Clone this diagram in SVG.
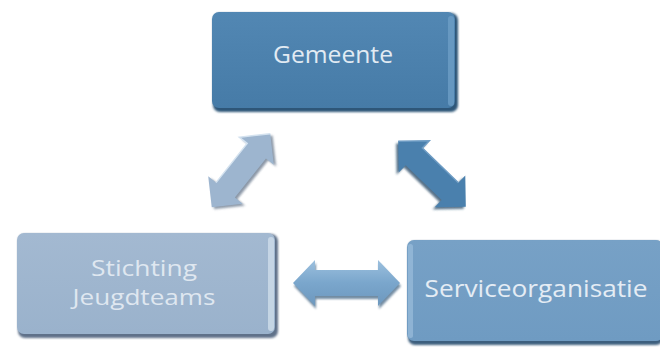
<svg xmlns="http://www.w3.org/2000/svg" xmlns:xlink="http://www.w3.org/1999/xlink" width="660" height="347" viewBox="0 0 660 347">
  <defs>
    <style>
      .lbl { font-family: "Open Sans", "Noto Sans", "Liberation Sans", sans-serif; font-size: 24px; text-anchor: middle; }
      .lbl2 { font-family: "Open Sans", "Noto Sans", "Liberation Sans", sans-serif; font-size: 21px; text-anchor: middle; }
    </style>
    <filter id="soft" x="-10%" y="-10%" width="120%" height="130%">
      <feGaussianBlur stdDeviation="1.2"/>
    </filter>
    <linearGradient id="gDark" x1="0" y1="0" x2="0" y2="1">
      <stop offset="0" stop-color="#5287b3"/>
      <stop offset="1" stop-color="#467ba7"/>
    </linearGradient>
    <linearGradient id="gLight" x1="0" y1="0" x2="0" y2="1">
      <stop offset="0" stop-color="#a3b9d1"/>
      <stop offset="1" stop-color="#9ab2cc"/>
    </linearGradient>
    <linearGradient id="gMid" x1="0" y1="0" x2="0" y2="1">
      <stop offset="0" stop-color="#77a1c6"/>
      <stop offset="1" stop-color="#6f9bc2"/>
    </linearGradient>
    <linearGradient id="gArrH" x1="0" y1="0" x2="0" y2="1">
      <stop offset="0" stop-color="#9cc0de"/>
      <stop offset="0.5" stop-color="#7aa6cc"/>
      <stop offset="1" stop-color="#6d98be"/>
    </linearGradient>
    <path id="dArrow" d="M-47,0 L-25,-22 L-25,-12 L25,-12 L25,-22 L47,0 L25,22 L25,12 L-25,12 L-25,22 Z"/>
  </defs>

  <rect width="660" height="347" fill="#ffffff"/>

  <g id="connectors">
    <!-- Gemeente <-> Stichting Jeugdteams -->
    <g id="arrow-left" transform="translate(241,170.5) rotate(-51.5)">
      <use xlink:href="#dArrow" href="#dArrow" fill="#6f7f92" transform="translate(0,3)" filter="url(#soft)" opacity="0.8"/>
      <use xlink:href="#dArrow" href="#dArrow" fill="#9db5cf"/>
      <path d="M-25,-12 L25,-12 L25,-22 L47,0" fill="none" stroke="#d4e2ef" stroke-width="1.5"/>
    </g>
    <!-- Gemeente <-> Serviceorganisatie -->
    <g id="arrow-right" transform="translate(432,174) rotate(44)">
      <use xlink:href="#dArrow" href="#dArrow" fill="#2f4f6c" transform="translate(0,3)" filter="url(#soft)" opacity="0.8"/>
      <use xlink:href="#dArrow" href="#dArrow" fill="#4a80ad"/>
      <path d="M-47,0 L-25,-22 L-25,-12 L25,-12" fill="none" stroke="#6e9cc4" stroke-width="1.5"/>
    </g>
    <!-- Stichting Jeugdteams <-> Serviceorganisatie -->
    <g id="arrow-horizontal">
      <path d="M293,283 L315,260 L315,270 L378,270 L378,260 L400,283 L378,306 L378,296 L315,296 L315,306 Z" fill="#4f6f8c" transform="translate(1,3)" filter="url(#soft)" opacity="0.8"/>
      <path d="M293,283 L315,260 L315,270 L378,270 L378,260 L400,283 L378,306 L378,296 L315,296 L315,306 Z" fill="url(#gArrH)"/>
    </g>
  </g>

  <g id="node-gemeente">
    <rect x="213" y="13" width="245" height="99" rx="7" fill="#2f5678" filter="url(#soft)"/>
    <rect x="212" y="12" width="243" height="96" rx="7" fill="url(#gDark)"/>
    <rect x="448" y="16" width="6" height="90" rx="3" fill="#6d9dc6" opacity="0.8"/>
    <text class="lbl" x="333" y="63" fill="#e2ebf3" textLength="120" lengthAdjust="spacingAndGlyphs">Gemeente</text>
  </g>

  <g id="node-stichting">
    <rect x="18" y="234" width="260" height="104" rx="7" fill="#5f7189" filter="url(#soft)"/>
    <rect x="17" y="233" width="258" height="101" rx="7" fill="url(#gLight)"/>
    <rect x="268" y="237" width="6" height="94" rx="3" fill="#c9d8e7" opacity="0.9"/>
    <text class="lbl2" x="144" y="276" fill="#dfe7f0" textLength="106" lengthAdjust="spacingAndGlyphs">Stichting</text>
    <text class="lbl2" x="144" y="305" fill="#dfe7f0" textLength="143" lengthAdjust="spacingAndGlyphs">Jeugdteams</text>
  </g>

  <g id="node-service">
    <rect x="408" y="241" width="255" height="104" rx="7" fill="#3e5f7e" filter="url(#soft)"/>
    <rect x="407" y="240" width="256" height="101" rx="7" fill="url(#gMid)"/>
    <rect x="408" y="244" width="5" height="94" rx="2.5" fill="#9bbddb" opacity="0.7"/>
    <text class="lbl" x="536" y="297" fill="#e4ecf4" textLength="223" lengthAdjust="spacingAndGlyphs">Serviceorganisatie</text>
  </g>
</svg>
